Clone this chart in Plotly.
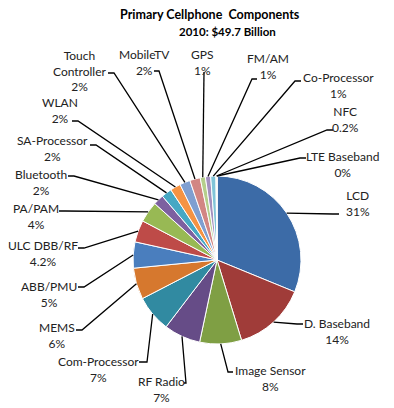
import math
import plotly.graph_objects as go

# ---- data ----
categories = ["LCD", "D. Baseband", "Image Sensor", "RF Radio", "Com-Processor", "MEMS",
              "ABB/PMU", "ULC DBB/RF", "PA/PAM", "Bluetooth", "SA-Processor", "WLAN",
              "Touch Controller", "MobileTV", "GPS", "FM/AM", "Co-Processor", "NFC", "LTE Baseband"]
values = [31, 14, 8, 7, 7, 6, 5, 4.2, 4, 2, 2, 2, 2, 2, 1, 1, 1, 0.2, 0]
title_text = "Primary Cellphone  Components"
subtitle_text = "2010: $49.7 Billion"

colors = ["#3C6BA7", "#A03C39", "#7F9F44", "#664C87", "#318AA1", "#D6782E",
          "#4A7EBE", "#BE4B48", "#98B954", "#7D60A0", "#46A8C4", "#F59343",
          "#7F9FD1", "#D28683", "#B5CF8C", "#A390BE", "#80C4D8", "#F9B482", "#A5BDE0"]

W, H = 394, 408
CX, CY, R = 217, 260, 84

# label layout (pixel positions of label centre, leader start, tick direction)
label_pos = {
    "LCD": (358, 203, 339, 214, -6),
    "D. Baseband": (337, 331, 303, 324, -6),
    "Image Sensor": (270, 378, 233, 372, -5),
    "RF Radio": (161, 389, 184, 383, 2),
    "Com-Processor": (98, 369, 139, 362, 8),
    "MEMS": (57, 335, 76, 330, 6),
    "ABB/PMU": (49, 294, 78, 287, 6),
    "ULC DBB/RF": (43, 253, 78, 248, 6),
    "PA/PAM": (36, 216, 59, 211, 6),
    "Bluetooth": (41, 182, 68, 176, 6),
    "SA-Processor": (53, 148, 90, 145, 6),
    "WLAN": (60, 111, 72, 121, 6),
    "Touch Controller": (80, 71, 108, 73, 6),
    "MobileTV": (144, 62, 154, 71, 5),
    "GPS": (202, 62, 204, 72, 0),
    "FM/AM": (268, 67, 257, 79, -5),
    "Co-Processor": (338, 85, 301, 81, -6),
    "NFC": (345, 119, 333, 130, -6),
    "LTE Baseband": (342, 164, 306, 158, -6),
}


def px(x):
    return x / W


def py(y):
    return 1 - y / H


def pct_text(v):
    return f"{v:g}%"


fig = go.Figure(go.Pie(
    labels=categories,
    values=values,
    sort=False,
    direction="clockwise",
    rotation=0,
    textinfo="none",
    marker=dict(colors=colors, line=dict(color="white", width=1)),
    domain=dict(x=[px(CX - R), px(CX + R)], y=[py(CY + R), py(CY - R)]),
    showlegend=False,
))

total = sum(values)
cum = 0
annotations = []
shapes = []
for cat, v in zip(categories, values):
    mid = (cum + v / 2) / total * 2 * math.pi
    cum += v
    sx = CX + R * math.sin(mid)
    sy = CY - R * math.cos(mid)
    lx, ly, ax, ay, dx = label_pos[cat]
    text = cat.replace("Touch ", "Touch<br>") + "<br>" + pct_text(v)
    annotations.append(dict(x=px(lx), y=py(ly), xref="paper", yref="paper", text=text,
                            showarrow=False, align="center", xanchor="center", yanchor="middle",
                            font=dict(family="Lato, Calibri, sans-serif", size=12, color="#222222")))
    path = f"M {px(ax)} {py(ay)} L {px(ax + dx)} {py(ay)} L {px(sx)} {py(sy)}"
    shapes.append(dict(type="path", xref="paper", yref="paper", path=path,
                       line=dict(color="black", width=1.3)))

annotations.append(dict(x=px(210), y=py(15), xref="paper", yref="paper", text=f"<b>{title_text}</b>",
                        showarrow=False, xanchor="center", yanchor="middle",
                        font=dict(family="Lato, Calibri, sans-serif", size=12.5, color="black")))
annotations.append(dict(x=px(228), y=py(32), xref="paper", yref="paper", text=f"<b>{subtitle_text}</b>",
                        showarrow=False, xanchor="center", yanchor="middle",
                        font=dict(family="Lato, Calibri, sans-serif", size=11.5, color="black")))

fig.update_layout(
    width=W, height=H,
    margin=dict(l=0, r=0, t=0, b=0),
    paper_bgcolor="white", plot_bgcolor="white",
    annotations=annotations, shapes=shapes,
)

fig.write_html("out.html", config={"displayModeBar": False},
               post_script="document.body.style.margin='0';document.body.style.overflow='hidden';")
